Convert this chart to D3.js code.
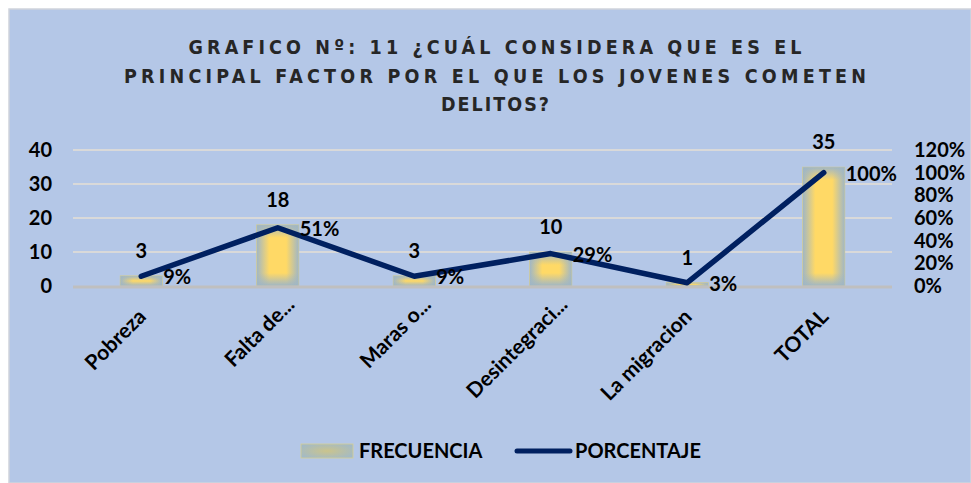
<!DOCTYPE html>
<html><head><meta charset="utf-8">
<script src="https://cdn.jsdelivr.net/npm/d3@7"></script>
<style>
html,body{margin:0;padding:0;background:#fff;}
svg{display:block;font-family:Lato,"Open Sans",sans-serif;}
</style></head>
<body>
<svg id="c" width="971" height="483"></svg>
<script>
const categories = ["Pobreza","Falta de...","Maras o...","Desintegraci...","La migracion","TOTAL"];
const frecuencia = [3,18,3,10,1,35];
const porcentaje = [0.086,0.514,0.086,0.286,0.029,1.0];
const leftTicks = [0,10,20,30,40];
const rightTicks = [0,0.2,0.4,0.6,0.8,1.0,1.2];
const titleLines = ["GRAFICO Nº: 11 ¿CUÁL CONSIDERA QUE ES EL","PRINCIPAL FACTOR POR EL QUE LOS JOVENES COMETEN","DELITOS?"];

const svg = d3.select("#c");
const W=971,H=483;
svg.append("rect").attr("x",9).attr("y",9).attr("width",W-9).attr("height",H-9)
  .attr("fill","#b4c7e7").attr("stroke","#d0d4dc").attr("stroke-width",1.5);

const defs = svg.append("defs");
const EDGE="#9fb6c6";
const hg = defs.append("linearGradient").attr("id","hg").attr("x1","0").attr("x2","1").attr("y1","0").attr("y2","0");
[[0,1],[0.3,0],[0.7,0],[1,1]].forEach(([o,a])=>hg.append("stop").attr("offset",o).attr("stop-color",EDGE).attr("stop-opacity",a));

const x0=73,x1=892,yTop=150,yBot=286;
const x = d3.scaleBand().domain(categories).range([x0,x1]).paddingInner(0.69).paddingOuter(0.345);
const xc = d3.scaleBand().domain(categories).range([x0,x1]);
const y = d3.scaleLinear().domain([0,40]).range([yBot,yTop]);
const y2 = d3.scaleLinear().domain([0,1.2]).range([yBot,yTop]);

categories.forEach((c,i)=>{
  const top=y(frecuencia[i]), h=yBot-top, f=Math.min(0.5,13/h);
  const vg=defs.append("linearGradient").attr("id","vg"+i).attr("x1","0").attr("x2","0").attr("y1","0").attr("y2","1");
  [[0,1],[f,0],[1-f,0],[1,1]].forEach(([o,a])=>vg.append("stop").attr("offset",o).attr("stop-color",EDGE).attr("stop-opacity",a));
});

// title
const tw=[613,742,108];
const ty=[54,83,111];
titleLines.forEach((t,i)=>{
  svg.append("text").attr("x",495).attr("y",ty[i]).attr("text-anchor","middle")
    .style("font-family","'DejaVu Sans Condensed','DejaVu Sans',sans-serif")
    .attr("font-size",19.5).attr("font-weight","bold").attr("fill","#262626")
    .attr("textLength",tw[i]).attr("lengthAdjust","spacing").text(t);
});

svg.append("g").selectAll("line").data(leftTicks.slice(1)).join("line")
  .attr("x1",x0).attr("x2",x1).attr("y1",d=>y(d)).attr("y2",d=>y(d))
  .attr("stroke","#d9d9d9").attr("stroke-width",2);

const fs=20;
const la = svg.append("g").attr("transform",`translate(${x0},0)`)
  .call(d3.axisLeft(y).tickValues(leftTicks).tickSize(0).tickPadding(21));
la.select(".domain").remove();
la.selectAll("text").attr("font-size",fs).attr("font-weight","bold").attr("fill","#000").attr("font-family","Lato");

const ra = svg.append("g").attr("transform",`translate(${x1},0)`)
  .call(d3.axisRight(y2).tickValues(rightTicks).tickFormat(d3.format(".0%")).tickSize(0).tickPadding(22));
ra.select(".domain").remove();
ra.selectAll("text").attr("font-size",fs).attr("font-weight","bold").attr("fill","#000").attr("font-family","Lato");

const bars = svg.append("g");
categories.forEach((c,i)=>{
  const bx=x(c), bw=x.bandwidth(), by=y(frecuencia[i]), bh=yBot-by;
  bars.append("rect").attr("x",bx).attr("y",by).attr("width",bw).attr("height",bh).attr("fill","#ffd966");
  bars.append("rect").attr("x",bx).attr("y",by).attr("width",bw).attr("height",bh).attr("fill","url(#hg)");
  bars.append("rect").attr("x",bx).attr("y",by).attr("width",bw).attr("height",bh).attr("fill","url(#vg"+i+")");
  bars.append("rect").attr("x",bx).attr("y",by).attr("width",bw).attr("height",bh).attr("fill","none")
    .attr("stroke","#d6cf92").attr("stroke-width",0.8).attr("stroke-opacity",0.6);
});

svg.append("line").attr("x1",x0).attr("x2",x1).attr("y1",yBot+1).attr("y2",yBot+1)
  .attr("stroke","#bfbfbf").attr("stroke-width",3);

svg.append("g").selectAll("text").data(categories).join("text")
  .attr("x",d=>xc(d)+xc.bandwidth()/2).attr("y",(d,i)=>y(frecuencia[i])-18)
  .attr("text-anchor","middle").attr("font-size",fs).attr("font-weight","bold").attr("fill","#000")
  .text((d,i)=>frecuencia[i]);

const line = d3.line().x((d,i)=>xc(categories[i])+xc.bandwidth()/2).y(d=>y2(d));
svg.append("path").attr("d",line(porcentaje)).attr("fill","none")
  .attr("stroke","#002060").attr("stroke-width",5.5).attr("stroke-linecap","round").attr("stroke-linejoin","round");

svg.append("g").selectAll("text").data(porcentaje).join("text")
  .attr("x",(d,i)=>xc(categories[i])+xc.bandwidth()/2+22).attr("y",d=>y2(d)+8)
  .attr("font-size",fs).attr("font-weight","bold").attr("fill","#000")
  .text(d=>d3.format(".0%")(d));

svg.append("g").selectAll("text").data(categories).join("text")
  .attr("transform",d=>{
    const sh = d.endsWith("...") ? 12 : 0;
    return `translate(${xc(d)+xc.bandwidth()/2+6+sh},${318-sh}) rotate(-45)`;
  })
  .attr("text-anchor","end").attr("font-size",21).attr("font-weight","bold")
  .attr("fill","#000").text(d=>d);

const lgd = defs.append("radialGradient").attr("id","legg").attr("cx","50%").attr("cy","50%").attr("r","60%");
lgd.append("stop").attr("offset","0%").attr("stop-color","#cbc48c");
lgd.append("stop").attr("offset","100%").attr("stop-color","#a3bac6");
svg.append("rect").attr("x",301).attr("y",444).attr("width",52).attr("height",14)
  .attr("fill","url(#legg)").attr("stroke","#d6cf92").attr("stroke-width",0.8);
svg.append("text").attr("x",359).attr("y",458).attr("font-size",20).attr("font-weight","bold").attr("fill","#000").text("FRECUENCIA");
svg.append("line").attr("x1",517).attr("x2",570).attr("y1",451).attr("y2",451)
  .attr("stroke","#002060").attr("stroke-width",5).attr("stroke-linecap","round");
svg.append("text").attr("x",575).attr("y",458).attr("font-size",20).attr("font-weight","bold").attr("fill","#000").text("PORCENTAJE");
</script>
</body></html>
